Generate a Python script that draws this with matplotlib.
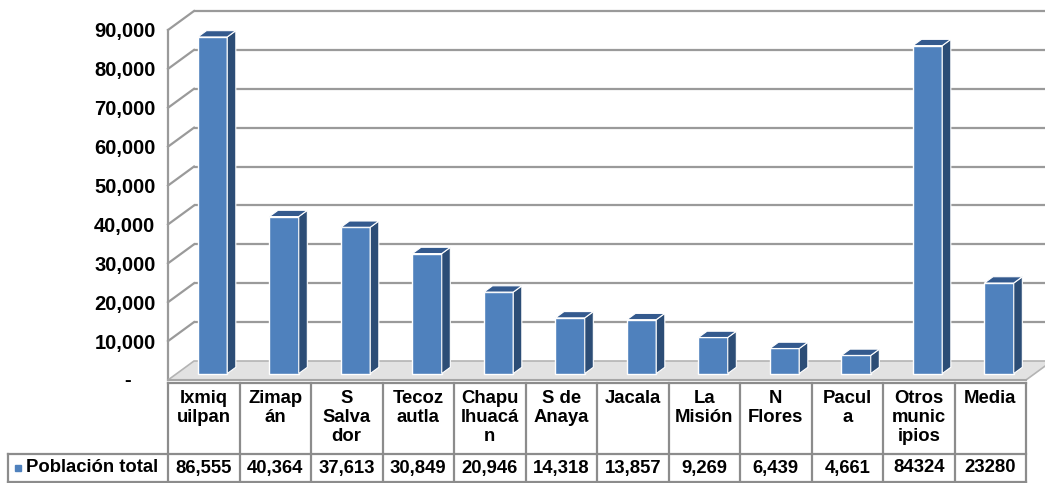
"""
Población total por municipio - barras pseudo 3D con tabla de datos.
Output: out.png
"""

import matplotlib.pyplot as plt
from matplotlib.patches import Polygon

plt.rcParams["font.family"] = ["Liberation Sans", "DejaVu Sans"]
plt.rcParams["font.weight"] = "bold"

# ── data ──────────────────────────────────────────────────────────────────────
municipios = ["Ixmiq\nuilpan", "Zimap\nán", "S\nSalva\ndor", "Tecoz\nautla",
              "Chapu\nlhuacá\nn", "S de\nAnaya", "Jacala", "La\nMisión",
              "N\nFlores", "Pacul\na", "Otros\nmunic\nipios", "Media"]
poblacion = [86555, 40364, 37613, 30849, 20946, 14318, 13857, 9269,
             6439, 4661, 84324, 23280]
serie = "Población total"
yticks = [0, 10000, 20000, 30000, 40000, 50000, 60000, 70000, 80000, 90000]

W, H = 1045, 483
BLUE, SIDE, TOP = "#4F81BD", "#2C4D76", "#345A8E"
GRID = "#9a9a9a"

fig = plt.figure(figsize=(W / 100, H / 100), dpi=100)

# front plane of the chart in pixels
X0, X1, Y0, Y1 = 168, 1026, 380, 30
ax = fig.add_axes([X0 / W, (H - Y0) / H, (X1 - X0) / W, (Y0 - Y1) / H])
n = len(municipios)
ax.set_xlim(0, n)
ax.set_ylim(0, 90000)

# depth vector (26 px right, 19 px up) in data units
DX = 26 * n / (X1 - X0)
DY = 19 * 90000 / (Y0 - Y1)

# ── walls, floor and gridlines ────────────────────────────────────────────────
floor = Polygon([(0, 0), (n, 0), (n + DX, DY), (DX, DY)], closed=True,
                facecolor="#e2e2e2", edgecolor="#b4b4b4", lw=1.2,
                clip_on=False, zorder=1.5)
ax.add_patch(floor)
ax.plot([0, n], [0, 0], color="#a6a6a6", lw=1.5, clip_on=False, zorder=1.6)
for v in yticks[1:]:
    ax.plot([DX, n + DX], [v + DY, v + DY], color=GRID, lw=1.6,
            clip_on=False, zorder=1, solid_capstyle="butt")
    ax.plot([0, DX], [v, v + DY], color=GRID, lw=1.6, clip_on=False, zorder=1)
ax.plot([0, 0], [0, 90000], color=GRID, lw=1.6, clip_on=False, zorder=1)

# ── bars ──────────────────────────────────────────────────────────────────────
f, t, bw = 0.34, 0.33, 0.41
xs = [i + 0.5 + f * DX for i in range(n)]
base = f * DY
ax.bar(xs, poblacion, width=bw, bottom=base, color=BLUE, edgecolor="white",
       lw=1, zorder=3)
for x, v in zip(xs, poblacion):
    r, l = x + bw / 2, x - bw / 2
    top = base + v
    ax.add_patch(Polygon([(r, base), (r + t * DX, base + t * DY),
                          (r + t * DX, top + t * DY), (r, top)],
                         facecolor=SIDE, edgecolor="white", lw=0.8, zorder=3))
    ax.add_patch(Polygon([(l, top), (r, top), (r + t * DX, top + t * DY),
                          (l + t * DX, top + t * DY)],
                         facecolor=TOP, edgecolor="white", lw=0.8, zorder=3))

ax.set_xticks([])
ax.set_yticks(yticks)
ax.set_yticklabels([""] + [f"{v:,}" for v in yticks[1:]],
                   fontsize=14.5, fontweight="bold")
ax.tick_params(axis="y", length=0, pad=9)
# Excel-style zero "-" sits further left
ax.text(-0.047, yticks[0], "-", transform=ax.get_yaxis_transform(),
        ha="center", va="center", fontsize=14.5, fontweight="bold")
for s in ax.spines.values():
    s.set_visible(False)

# ── data table ────────────────────────────────────────────────────────────────
tax = fig.add_axes([0, 0, 1, 1])
tax.set_xlim(0, W)
tax.set_ylim(H, 0)
tax.axis("off")

cw = (X1 - X0) / n
edges = [X0 + cw * i for i in range(n + 1)]
LC = "#8c8c8c"
tax.plot([X0, X1], [383, 383], color=LC, lw=1.6)
tax.plot([8, X1], [454, 454], color=LC, lw=1.6)
tax.plot([8, X1], [482, 482], color=LC, lw=1.6)
for e in edges:
    tax.plot([e, e], [383, 483], color=LC, lw=1.6)
tax.plot([8, 8], [454, 482], color=LC, lw=1.6)

valores = [f"{v:,}" for v in poblacion[:10]] + [str(v) for v in poblacion[10:]]
for i, (m, s) in enumerate(zip(municipios, valores)):
    cx = (edges[i] + edges[i + 1]) / 2
    tax.text(cx, 390, m, ha="center", va="top", fontsize=13.3,
             fontweight="bold", linespacing=1.17)
    tax.text(cx, 468, s, ha="center", va="center", fontsize=13.3,
             fontweight="bold")

tax.plot([18], [468], marker="s", color=BLUE, markersize=5)
tax.text(26, 468, serie, ha="left", va="center", fontsize=13.3,
         fontweight="bold")

fig.savefig("out.png", dpi=100)
